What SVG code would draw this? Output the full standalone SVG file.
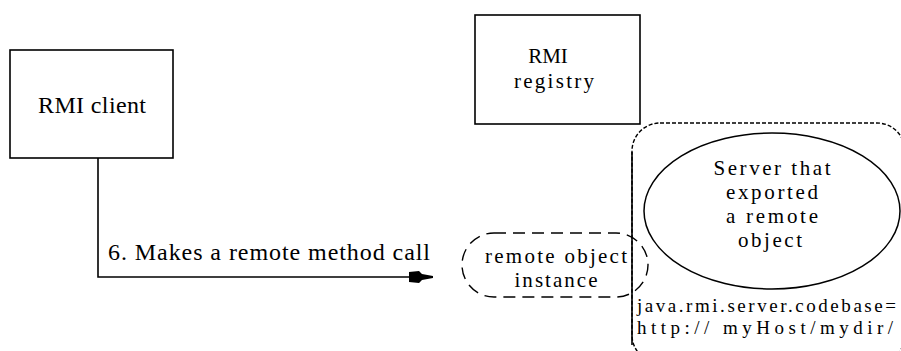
<svg xmlns="http://www.w3.org/2000/svg" width="901" height="351" viewBox="0 0 901 351">
<defs>
<style>
.box{fill:#fff;stroke:#000;stroke-width:1.6}
.t{font-family:"Liberation Serif","Times New Roman",serif;font-size:24px;fill:#000}
.m{font-size:21px}
.s{font-size:19px}
.c{text-anchor:middle}
.dash{fill:none;stroke:#000;stroke-width:1.4;stroke-dasharray:12 7}
.dot{fill:none;stroke:#000;stroke-width:1.4;stroke-dasharray:4 2}
.line{fill:none;stroke:#000;stroke-width:1.6}
</style>
<marker id="ah" viewBox="0 0 24 14" refX="23" refY="7" markerWidth="24" markerHeight="14" markerUnits="userSpaceOnUse" orient="auto">
<path d="M0,2 L10,1 L13,4 L24,6 L24,8 L13,10 L10,13 L0,12 Z" fill="#000"/>
</marker>
</defs>
<rect width="901" height="351" fill="#fff"/>
<g id="connectors">
<path class="line" d="M98,158 V277 H432" marker-end="url(#ah)"/>
<text class="t" x="108" y="260" textLength="322" lengthAdjust="spacing">6. Makes a remote method call</text>
</g>
<g id="client">
<rect class="box" x="10" y="50" width="163" height="108"/>
<text class="t c" x="92" y="113" textLength="108" lengthAdjust="spacing">RMI client</text>
</g>
<g id="registry">
<rect class="box" x="475" y="15" width="165" height="109"/>
<text class="t m c" x="548" y="63">RMI</text>
<text class="t m c" x="554" y="88" textLength="80" lengthAdjust="spacing">registry</text>
</g>
<g id="server">
<rect class="dot" x="632" y="123" width="273" height="240" rx="28" ry="28"/>
<line class="line" x1="632" y1="152" x2="632" y2="345"/>
<ellipse cx="772" cy="211" rx="128" ry="78" fill="none" stroke="#000" stroke-width="1.5"/>
<text class="t m c" x="772" y="175" textLength="117" lengthAdjust="spacing">Server that</text>
<text class="t m c" x="772" y="199" textLength="92" lengthAdjust="spacing">exported</text>
<text class="t m c" x="772" y="223" textLength="92" lengthAdjust="spacing">a remote</text>
<text class="t m c" x="770" y="247" textLength="64" lengthAdjust="spacing">object</text>
<text class="t s" x="637" y="312" textLength="259" lengthAdjust="spacing">java.rmi.server.codebase=</text>
<text class="t s" x="637" y="334" textLength="256" lengthAdjust="spacing">http:// myHost/mydir/</text>
</g>
<g id="remote-object">
<rect class="dash" x="462" y="233" width="186" height="64" rx="32" ry="32"/>
<text class="t m c" x="556" y="263" textLength="142" lengthAdjust="spacing">remote object</text>
<text class="t m c" x="556" y="287" textLength="83" lengthAdjust="spacing">instance</text>
</g>
</svg>
